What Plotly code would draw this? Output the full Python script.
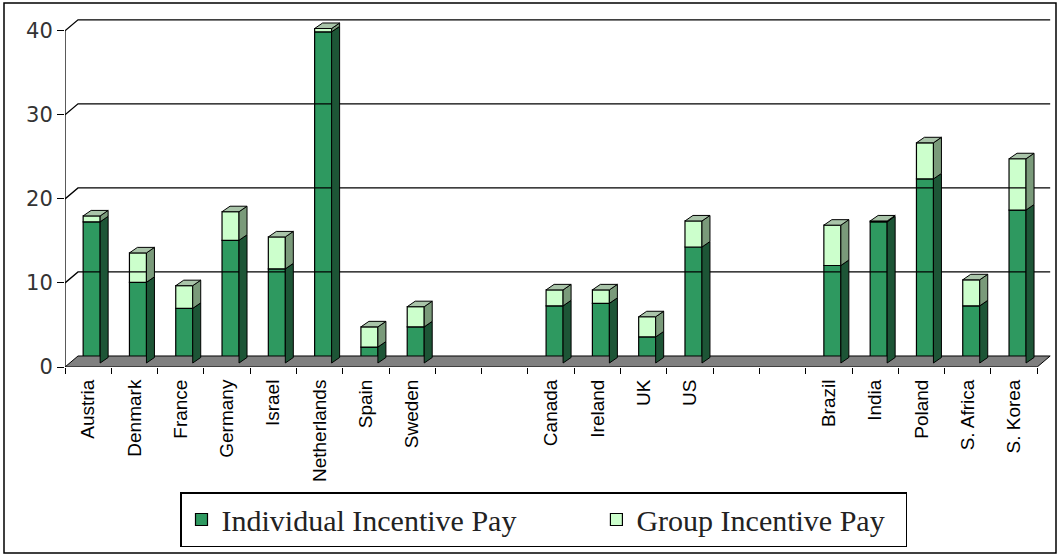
import plotly.graph_objects as go

# ---------------- data ----------------
categories = ["Austria", "Denmark", "France", "Germany", "Israel", "Netherlands",
              "Spain", "Sweden", "", "", "Canada", "Ireland", "UK", "US", "", "",
              "Brazil", "India", "Poland", "S. Africa", "S. Korea"]
individual = [16.8, 9.6, 6.5, 14.6, 11.2, 39.4, 1.9, 4.3, None, None,
              6.8, 7.1, 3.1, 13.8, None, None, 11.6, 16.8, 21.9, 6.8, 18.2]
group = [0.7, 3.5, 2.7, 3.4, 3.8, 0.4, 2.4, 2.4, None, None,
         1.9, 1.6, 2.4, 3.1, None, None, 4.8, 0.1, 4.3, 3.1, 6.1]
y_ticks = [0, 10, 20, 30, 40]
series_names = ["Individual Incentive Pay", "Group Incentive Pay"]

# ---------------- styling / pseudo-3D geometry ----------------
IND_FRONT, IND_SIDE = "#2E9960", "#1D5536"
GRP_FRONT, GRP_SIDE, TOP_FACE = "#CCFFCC", "#7A9A7A", "#A9C4A9"
FLOOR = "#808080"

PX_X, PX_Y = 46.3, 8.4              # pixels per x unit / y unit
WALL_DX, WALL_DY = 13 / PX_X, 11 / PX_Y
BAR_SHIFT, BAR_BASE = 3.5 / PX_X, 4 / PX_Y
BAR_W = 17 / PX_X
BAR_DX, BAR_DY = 8 / PX_X, 5.5 / PX_Y

n = len(categories)
x_lo, x_hi = -0.5, n - 0.5
y_top = max(y_ticks)

fig = go.Figure()

# floor
fig.add_trace(go.Scatter(
    x=[x_lo, x_hi, x_hi + WALL_DX, x_lo + WALL_DX, x_lo],
    y=[0, 0, WALL_DY, WALL_DY, 0],
    mode="lines", fill="toself", fillcolor=FLOOR,
    line=dict(color="black", width=1), showlegend=False, hoverinfo="skip"))

# back wall grid lines + left wall diagonals + front axis line
gx, gy = [x_lo, x_lo, None], [0, y_top, None]
for v in y_ticks[1:]:
    gx += [x_lo, x_lo + WALL_DX, x_hi + WALL_DX, None]
    gy += [v, v + WALL_DY, v + WALL_DY, None]
fig.add_trace(go.Scatter(x=gx, y=gy, mode="lines",
                         line=dict(color="black", width=1.3),
                         showlegend=False, hoverinfo="skip"))

# side and top faces
side_ind_x, side_ind_y, side_grp_x, side_grp_y, top_x, top_y = [], [], [], [], [], []
for i in range(n):
    if individual[i] is None:
        continue
    xl = i + BAR_SHIFT - BAR_W / 2
    xr = i + BAR_SHIFT + BAR_W / 2
    b0 = BAR_BASE
    t1 = b0 + individual[i]
    t2 = t1 + group[i]
    side_ind_x += [xr, xr + BAR_DX, xr + BAR_DX, xr, xr, None]
    side_ind_y += [b0, b0 + BAR_DY, t1 + BAR_DY, t1, b0, None]
    side_grp_x += [xr, xr + BAR_DX, xr + BAR_DX, xr, xr, None]
    side_grp_y += [t1, t1 + BAR_DY, t2 + BAR_DY, t2, t1, None]
    top_x += [xl, xr, xr + BAR_DX, xl + BAR_DX, xl, None]
    top_y += [t2, t2, t2 + BAR_DY, t2 + BAR_DY, t2, None]

for xs, ys, col in [(side_ind_x, side_ind_y, IND_SIDE),
                    (side_grp_x, side_grp_y, GRP_SIDE),
                    (top_x, top_y, TOP_FACE)]:
    fig.add_trace(go.Scatter(x=xs, y=ys, mode="lines", fill="toself",
                             fillcolor=col, line=dict(color="black", width=1),
                             showlegend=False, hoverinfo="skip"))

# front faces (real bars)
xpos = [i + BAR_SHIFT for i in range(n)]
base_ind = [BAR_BASE if v is not None else None for v in individual]
base_grp = [BAR_BASE + a if a is not None else None for a in individual]

fig.add_trace(go.Bar(x=xpos, y=individual, base=base_ind, width=BAR_W,
                     name=series_names[0] + "\u00a0" * 10,
                     marker=dict(color=IND_FRONT, line=dict(color="black", width=1.2))))
fig.add_trace(go.Bar(x=xpos, y=group, base=base_grp, width=BAR_W,
                     name=series_names[1] + "\u00a0" * 2,
                     marker=dict(color=GRP_FRONT, line=dict(color="black", width=1.2))))

plot_h = 556 - 189 - 14
fig.update_layout(
    width=1060, height=556,
    margin=dict(l=65, r=8, t=14, b=189),
    barmode="overlay",
    plot_bgcolor="white", paper_bgcolor="white",
    showlegend=True,
    legend=dict(orientation="h", x=(180 - 65) / 987, xanchor="left",
                y=(367 - 492) / plot_h, yanchor="top",
                bordercolor="black", borderwidth=1.5,
                font=dict(family="Liberation Serif", size=30, color="#222"),
                traceorder="normal", tracegroupgap=0),
    xaxis=dict(range=[x_lo, x_hi + 0.32], tickmode="array",
               tickvals=list(range(n)), ticktext=categories, tickangle=-90,
               ticks="outside", ticklen=4, tickcolor="rgba(0,0,0,0)",
               tickfont=dict(family="Liberation Sans", size=19, color="black"),
               showgrid=False, zeroline=False, showline=False,
               minor=dict(tickvals=[i - 0.5 for i in range(n + 1)],
                          ticks="outside", ticklen=6, tickcolor="black",
                          tickwidth=1.3, showgrid=False)),
    yaxis=dict(range=[0, 42], tickmode="array", tickvals=y_ticks,
               ticks="outside", ticklen=7, tickcolor="black", tickwidth=1.3,
               tickfont=dict(family="DejaVu Sans", size=21, color="#333"),
               showgrid=False, zeroline=False, showline=False),
    shapes=[dict(type="rect", xref="paper", yref="paper",
                 x0=(4 - 65) / 987, x1=(1056 - 65) / 987,
                 y0=(367 - 553) / plot_h, y1=(367 - 3) / plot_h,
                 line=dict(color="black", width=1.5), fillcolor="rgba(0,0,0,0)",
                 layer="below")],
)

fig.write_html("out.html")
